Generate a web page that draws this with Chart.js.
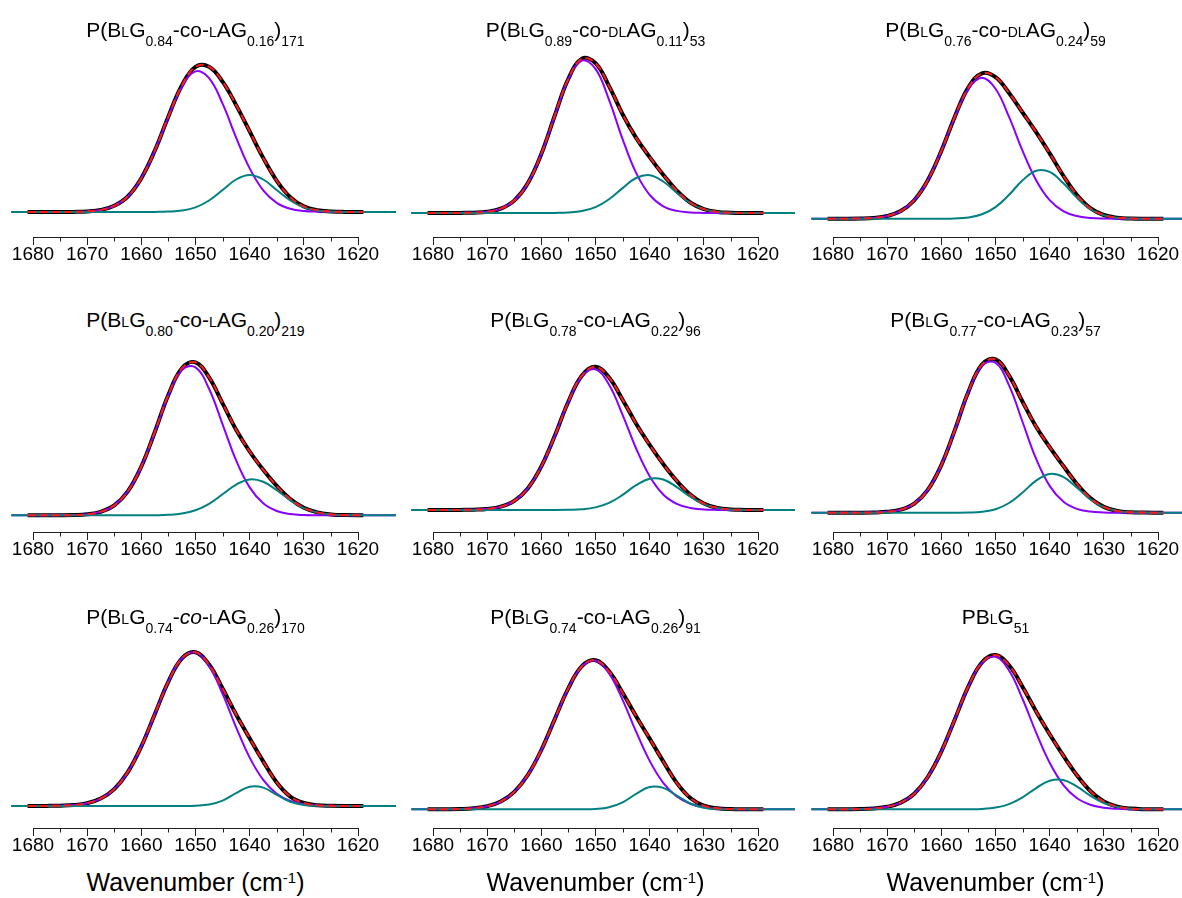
<!DOCTYPE html>
<html><head><meta charset="utf-8">
<script src="https://cdn.jsdelivr.net/npm/chart.js@4.4.1/dist/chart.umd.min.js"></script>
<style>
html,body{margin:0;padding:0;background:#fff;}
body{width:1182px;height:898px;position:relative;overflow:hidden;font-family:"Liberation Sans",Arial,sans-serif;}
canvas{position:absolute;}
.title{position:absolute;width:360px;text-align:center;font-size:21px;line-height:1;color:#000;white-space:nowrap;}
.title .sc{font-size:14px;}
.title sub{font-size:14px;vertical-align:-9px;line-height:1;}
.xlabel{position:absolute;width:360px;text-align:center;font-size:25px;line-height:1;color:#000;white-space:nowrap;}
.xlabel sup{font-size:15px;vertical-align:8px;line-height:1;}
</style></head><body>
<script>
// ---- data (wavenumber in cm-1, absorbance in a.u.) ----
const wavenumbers = [1684,1681,1677.5,1675,1672.5,1670,1667.5,1665,1662.5,1660,1657.5,1655,1652.5,1650,1647.5,1645,1642.5,1640,1637.5,1635,1632.5,1630,1627.5,1625,1622.5,1619,1613];
const xTicks = [1680,1675,1670,1665,1660,1655,1650,1645,1640,1635,1630,1625,1620];

const p1Total = [null,0,0,0,0.001,0.006,0.021,0.062,0.155,0.338,0.616,0.956,1.267,1.452,1.453,1.303,1.069,0.806,0.541,0.312,0.148,0.056,0.017,0.005,0.001,0,null];
const p1Peak1 = [0,0,0,0,0.001,0.006,0.021,0.062,0.155,0.338,0.615,0.952,1.253,1.406,1.338,1.083,0.744,0.436,0.216,0.092,0.033,0.010,0.003,0.001,0,0,0];
const p1Peak2 = [0,0,0,0,0,0,0,0,0,0,0.001,0.004,0.014,0.046,0.115,0.220,0.325,0.370,0.325,0.220,0.115,0.046,0.014,0.004,0.001,0,0];

const p2Total = [null,0,0,0.001,0.003,0.012,0.043,0.124,0.297,0.591,0.977,1.344,1.543,1.499,1.269,0.988,0.751,0.559,0.382,0.224,0.105,0.039,0.011,0.003,0,0,null];
const p2Peak1 = [0,0,0,0.001,0.003,0.012,0.043,0.124,0.297,0.591,0.976,1.339,1.524,1.441,1.132,0.739,0.401,0.181,0.067,0.021,0.005,0.001,0,0,0,0,0];
const p2Peak2 = [0,0,0,0,0,0,0,0,0,0,0.001,0.005,0.019,0.058,0.137,0.249,0.350,0.378,0.315,0.203,0.100,0.038,0.011,0.003,0,0,0];

const p3Total = [null,0,0,0.002,0.008,0.027,0.076,0.185,0.385,0.678,1.021,1.313,1.454,1.416,1.257,1.062,0.865,0.653,0.432,0.238,0.105,0.037,0.010,0.002,0,0,null];
const p3Peak1 = [0,0,0,0.002,0.008,0.027,0.076,0.185,0.385,0.678,1.018,1.300,1.410,1.300,1.018,0.678,0.385,0.185,0.076,0.027,0.008,0.002,0,0,0,0,0];
const p3Peak2 = [0,0,0,0,0,0,0,0,0,0,0.003,0.013,0.044,0.116,0.239,0.384,0.480,0.468,0.356,0.211,0.097,0.035,0.010,0.002,0,0,0];

const p4Total = [null,0,0,0,0.002,0.010,0.035,0.099,0.239,0.488,0.835,1.206,1.471,1.530,1.380,1.120,0.856,0.638,0.455,0.294,0.163,0.075,0.029,0.009,0.002,0,null];
const p4Peak1 = [0,0,0,0,0.002,0.010,0.035,0.099,0.239,0.488,0.834,1.201,1.453,1.479,1.265,0.910,0.549,0.279,0.120,0.043,0.013,0.003,0.001,0,0,0,0];
const p4Peak2 = [0,0,0,0,0,0,0,0,0,0,0.001,0.005,0.018,0.051,0.115,0.210,0.307,0.359,0.335,0.251,0.150,0.072,0.028,0.009,0.002,0,0];

const p5Total = [null,0,0,0.001,0.003,0.010,0.033,0.092,0.216,0.436,0.744,1.085,1.345,1.432,1.324,1.103,0.863,0.651,0.460,0.291,0.154,0.065,0.021,0.005,0.001,0,null];
const p5Peak1 = [0,0,0,0.001,0.003,0.010,0.033,0.092,0.216,0.436,0.744,1.083,1.338,1.406,1.253,0.952,0.615,0.338,0.155,0.062,0.021,0.006,0.001,0,0,0,0];
const p5Peak2 = [0,0,0,0,0,0,0,0,0,0,0,0.002,0.007,0.026,0.071,0.151,0.248,0.313,0.305,0.229,0.133,0.059,0.020,0.005,0.001,0,0];

const p6Total = [null,0,0,0,0.002,0.009,0.030,0.091,0.228,0.476,0.828,1.210,1.481,1.534,1.371,1.109,0.859,0.656,0.469,0.290,0.146,0.058,0.017,0.004,0.001,0,null];
const p6Peak1 = [0,0,0,0,0.002,0.009,0.030,0.091,0.228,0.476,0.828,1.208,1.471,1.499,1.274,0.907,0.538,0.268,0.111,0.038,0.011,0.003,0,0,0,0,0];
const p6Peak2 = [0,0,0,0,0,0,0,0,0,0,0,0.002,0.010,0.035,0.097,0.202,0.321,0.388,0.358,0.252,0.135,0.055,0.017,0.004,0.001,0,0];

const p7Total = [null,0,0.001,0.003,0.009,0.028,0.074,0.169,0.339,0.596,0.921,1.244,1.477,1.538,1.415,1.175,0.915,0.677,0.446,0.235,0.094,0.030,0.008,0.002,0,0,null];
const p7Peak1 = [0,0,0.001,0.003,0.009,0.028,0.074,0.169,0.339,0.596,0.921,1.244,1.477,1.535,1.401,1.121,0.787,0.484,0.262,0.123,0.051,0.019,0.006,0.002,0,0,0];
const p7Peak2 = [0,0,0,0,0,0,0,0,0,0,0,0,0,0.003,0.014,0.054,0.128,0.193,0.184,0.112,0.043,0.011,0.002,0,0,0,0];

const p8Total = [null,0,0.001,0.003,0.011,0.031,0.077,0.174,0.343,0.593,0.904,1.211,1.431,1.490,1.380,1.165,0.930,0.707,0.479,0.264,0.113,0.036,0.010,0.002,0,0,null];
const p8Peak1 = [0,0,0.001,0.003,0.011,0.031,0.077,0.174,0.343,0.593,0.904,1.211,1.430,1.486,1.359,1.095,0.776,0.484,0.265,0.128,0.055,0.020,0.007,0.002,0,0,0];
const p8Peak2 = [0,0,0,0,0,0,0,0,0,0,0,0,0.001,0.004,0.021,0.070,0.154,0.223,0.214,0.136,0.058,0.016,0.003,0,0,0,0];

const p9Total = [null,0,0.001,0.002,0.008,0.025,0.067,0.156,0.323,0.577,0.901,1.230,1.468,1.542,1.440,1.223,0.979,0.751,0.539,0.343,0.183,0.079,0.027,0.007,0.001,0,null];
const p9Peak1 = [0,0,0.001,0.002,0.008,0.025,0.067,0.156,0.323,0.577,0.901,1.229,1.464,1.525,1.388,1.103,0.767,0.465,0.245,0.113,0.046,0.016,0.005,0.001,0,0,0];
const p9Peak2 = [0,0,0,0,0,0,0,0,0,0,0,0.001,0.004,0.017,0.052,0.120,0.212,0.286,0.294,0.230,0.137,0.063,0.022,0.006,0.001,0,0];

const panelTitles = [
  'P(B<span class="sc">L</span>G<sub>0.84</sub>-co-<span class="sc">L</span>AG<sub>0.16</sub>)<sub>171</sub>',
  'P(B<span class="sc">L</span>G<sub>0.89</sub>-co-<span class="sc">DL</span>AG<sub>0.11</sub>)<sub>53</sub>',
  'P(B<span class="sc">L</span>G<sub>0.76</sub>-co-<span class="sc">DL</span>AG<sub>0.24</sub>)<sub>59</sub>',
  'P(B<span class="sc">L</span>G<sub>0.80</sub>-co-<span class="sc">L</span>AG<sub>0.20</sub>)<sub>219</sub>',
  'P(B<span class="sc">L</span>G<sub>0.78</sub>-co-<span class="sc">L</span>AG<sub>0.22</sub>)<sub>96</sub>',
  'P(B<span class="sc">L</span>G<sub>0.77</sub>-co-<span class="sc">L</span>AG<sub>0.23</sub>)<sub>57</sub>',
  'P(B<span class="sc">L</span>G<sub>0.74</sub>-<i>co</i>-<span class="sc">L</span>AG<sub>0.26</sub>)<sub>170</sub>',
  'P(B<span class="sc">L</span>G<sub>0.74</sub>-co-<span class="sc">L</span>AG<sub>0.26</sub>)<sub>91</sub>',
  'PB<span class="sc">L</span>G<sub>51</sub>'
];
const xAxisTitle = 'Wavenumber (cm<sup>-1</sup>)';

// ---- layout (pixels) ----
const columns = [
  {x1680: 33,  x1620: 358,  left: 0,   width: 400},
  {x1680: 433, x1620: 758,  left: 370, width: 425},
  {x1680: 833, x1620: 1158, left: 790, width: 392}
];
const rows = [
  {top: 45,  axisY: 237, titleTop: 19},
  {top: 340, axisY: 532, titleTop: 309},
  {top: 635, axisY: 828, titleTop: 606}
];
const baselinesPx = [212, 213, 218.7, 515.3, 510, 512.7, 806, 809.3, 809.3];
const PX_PER_UNIT = 100;
const AXIS_H = 32;
const FONT = '"Liberation Sans", Arial, sans-serif';

const panels = [
  [p1Total, p1Peak1, p1Peak2], [p2Total, p2Peak1, p2Peak2], [p3Total, p3Peak1, p3Peak2],
  [p4Total, p4Peak1, p4Peak2], [p5Total, p5Peak1, p5Peak2], [p6Total, p6Peak1, p6Peak2],
  [p7Total, p7Peak1, p7Peak2], [p8Total, p8Peak1, p8Peak2], [p9Total, p9Peak1, p9Peak2]
];

const pts = arr => wavenumbers.map((x, i) => ({x: x, y: arr[i]}));

const minorTicks = {
  id: 'minorTicks',
  afterDraw(chart) {
    const s = chart.scales.x, ctx = chart.ctx;
    ctx.save();
    ctx.strokeStyle = '#222';
    ctx.lineWidth = 1;
    xTicks.forEach(v => {
      if (v % 10 !== 0) {
        const px = Math.round(s.getPixelForValue(v)) + 0.5;
        ctx.beginPath();
        ctx.moveTo(px, s.top);
        ctx.lineTo(px, s.top + 4.5);
        ctx.stroke();
      }
    });
    ctx.restore();
  }
};

panels.forEach((p, idx) => {
  const col = columns[idx % 3], row = rows[Math.floor(idx / 3)];
  const base = baselinesPx[idx];
  const H = row.axisY - row.top + AXIS_H;
  const cv = document.createElement('canvas');
  cv.width = col.width; cv.height = H;
  cv.style.left = col.left + 'px'; cv.style.top = row.top + 'px';
  cv.style.width = col.width + 'px'; cv.style.height = H + 'px';
  document.body.appendChild(cv);

  const yMax = (base - row.top) / PX_PER_UNIT;
  const yMin = -(row.axisY - base) / PX_PER_UNIT;

  new Chart(cv, {
    type: 'line',
    data: {
      datasets: [
        {label: 'Cumulative fit', data: pts(p[0]), borderColor: '#ff1a1a', borderWidth: 2, borderDash: [8, 4], order: 0, clip: false},
        {label: 'Peak 2', data: pts(p[2]), borderColor: '#008080', borderWidth: 2, order: 1, clip: false},
        {label: 'Peak 1', data: pts(p[1]), borderColor: '#8800ff', borderWidth: 2, order: 2, clip: false},
        {label: 'Measured', data: pts(p[0]), borderColor: '#000000', borderWidth: 4, order: 3, clip: false}
      ]
    },
    options: {
      responsive: false, animation: false, devicePixelRatio: 1,
      layout: {padding: {left: col.x1680 - col.left, right: col.left + col.width - col.x1620, top: 0, bottom: 0}},
      plugins: {legend: {display: false}, tooltip: {enabled: false}, title: {display: false}},
      elements: {
        point: {radius: 0, hoverRadius: 0},
        line: {cubicInterpolationMode: 'default', tension: 0.4, capBezierPoints: false, fill: false, borderJoinStyle: 'round'}
      },
      scales: {
        x: {
          type: 'linear', min: 1620, max: 1680, reverse: true, position: 'bottom',
          afterBuildTicks: s => { s.ticks = xTicks.map(v => ({value: v})); },
          afterFit: s => { s.height = AXIS_H; s.paddingLeft = 0; s.paddingRight = 0; },
          ticks: {
            autoSkip: false, maxRotation: 0, minRotation: 0, padding: 0, color: '#000',
            font: {family: FONT, size: 19, lineHeight: 1},
            callback: v => (v % 10 === 0 ? String(v) : '')
          },
          grid: {
            display: true, drawOnChartArea: false, drawTicks: true, tickLength: 8, tickWidth: 1,
            tickColor: c => (c.tick && c.tick.value % 10 === 0) ? '#222' : 'rgba(0,0,0,0)'
          },
          border: {display: true, color: '#222', width: 1}
        },
        y: {type: 'linear', display: false, min: yMin, max: yMax}
      }
    },
    plugins: [minorTicks]
  });

  const t = document.createElement('div');
  t.className = 'title';
  t.innerHTML = panelTitles[idx];
  t.style.left = ((col.x1680 + col.x1620) / 2 - 180) + 'px';
  t.style.top = row.titleTop + 'px';
  document.body.appendChild(t);

  if (idx >= 6) {
    const xl = document.createElement('div');
    xl.className = 'xlabel';
    xl.innerHTML = xAxisTitle;
    xl.style.left = ((col.x1680 + col.x1620) / 2 - 180) + 'px';
    xl.style.top = '870px';
    document.body.appendChild(xl);
  }
});
</script>
</body></html>
